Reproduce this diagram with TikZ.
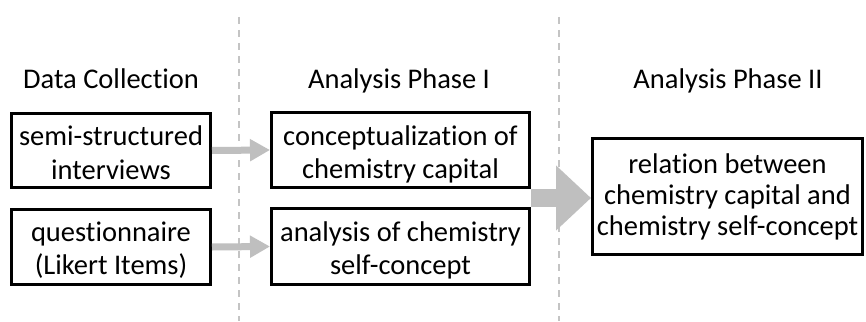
\documentclass[tikz,border=0pt]{standalone}
\usepackage{fontspec}
\setmainfont{Carlito}[Ligatures=NoCommon]
\usetikzlibrary{arrows.meta,calc}
% struts fixing the height of the first and the depth of the last line of a box
\newcommand\boxtopstrut[1]{\rule{0pt}{#1}}
\newcommand\boxbotstrut{\rule[-8pt]{0pt}{8pt}}
\begin{document}
\begin{tikzpicture}[x=1pt,y=-1pt,
  font=\fontsize{28.5}{33.5}\selectfont,
  box/.style={draw=black,line width=3pt,align=center,inner sep=0pt,
    minimum width=#1},
  heading/.style={anchor=base,inner sep=0pt},
  divider/.style={draw={rgb,255:red,196;green,196;blue,196},line width=1.6pt,
    dash pattern=on 7pt off 6pt},
  flow/.style={draw={rgb,255:red,191;green,191;blue,191},line width=7pt,
    -{Triangle[length=20pt,width=21pt]}},
  bigflow/.style={draw={rgb,255:red,191;green,191;blue,191},line width=18pt,
    -{Triangle[length=35pt,width=63pt]}}]
  \useasboundingbox[fill=white] (0,0) rectangle (866,321);

  % phase dividers
  \coordinate (d1t) at (239,17);  \coordinate (d1b) at (239,321);
  \coordinate (d2t) at (559,17);  \coordinate (d2b) at (559,321);
  \draw[divider] (d1t) -- (d1b);
  \draw[divider] (d2t) -- (d2b);

  % column headings
  \node[heading] (h1) at (111,88.5) {Data Collection};
  \node[heading] (h2) at (399,88.5) {Analysis Phase I};
  \node[heading] (h3) at (728,88.5) {Analysis Phase II};

  % data collection
  \node[box=199pt,minimum height=74pt] (b1) at (111,150.5)
    {\boxtopstrut{31.5pt}semi-structured\\interviews\boxbotstrut};
  \node[box=199pt,minimum height=75pt] (b2) at (111,247)
    {\boxtopstrut{30pt}questionnaire\\(Likert Items)\boxbotstrut};

  % analysis phase I
  \node[box=258pt,minimum height=75pt] (b3) at (400.5,150)
    {\boxtopstrut{31.5pt}conceptualization of\\chemistry capital\boxbotstrut};
  \node[box=258pt,minimum height=76pt] (b4) at (400.5,246.5)
    {\boxtopstrut{30.5pt}analysis of chemistry\\self-concept\boxbotstrut};

  % analysis phase II
  \node[box=270pt,minimum height=116pt,
    font=\fontsize{28.5}{31}\selectfont] (b5) at (727.5,196.5)
    {\boxtopstrut{23pt}relation between\\chemistry capital and\\
     chemistry self-concept\boxbotstrut};

  % connectors
  \draw[flow] (b1.east) -- (b3.west);
  \draw[flow] (b2.east) -- (b4.west);
  \coordinate (mid) at ($(b3.south east)!0.5!(b4.north east)$);
  \draw[bigflow] (mid) -- (mid -| b5.west);
\end{tikzpicture}
\end{document}
